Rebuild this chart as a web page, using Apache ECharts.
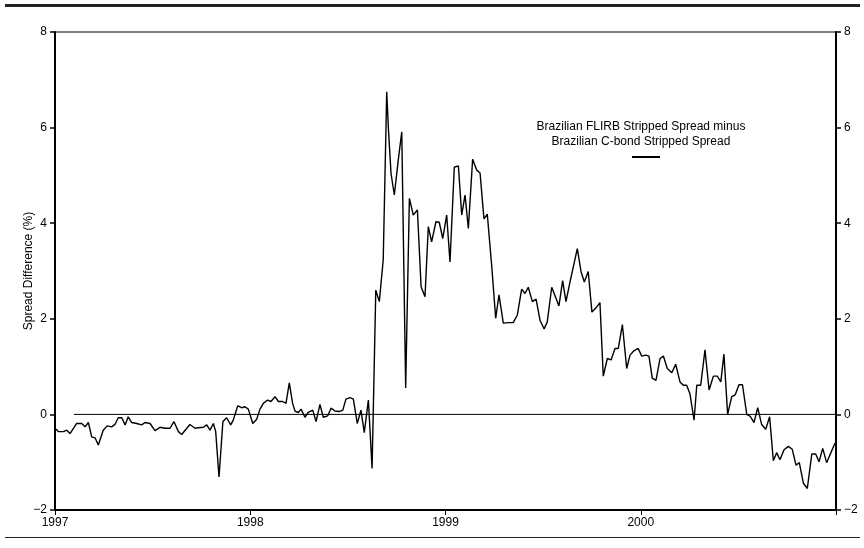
<!DOCTYPE html>
<html>
<head>
<meta charset="utf-8">
<script src="https://cdn.jsdelivr.net/npm/echarts@6/dist/echarts.min.js"></script>
<style>
  html, body { margin: 0; padding: 0; background: #fff; }
  #chart { width: 864px; height: 548px; }
</style>
</head>
<body>
<div id="chart"></div>
<script>
// weekly observations, x in fractional years
var dates = [
  1997.000, 1997.017, 1997.043, 1997.060, 1997.077, 1997.111, 1997.137, 1997.154, 1997.171, 1997.188,
  1997.205, 1997.222, 1997.247, 1997.268, 1997.290, 1997.307, 1997.324, 1997.342, 1997.359, 1997.375,
  1997.393, 1997.418, 1997.444, 1997.461, 1997.487, 1997.512, 1997.538, 1997.563, 1997.589, 1997.609,
  1997.632, 1997.649, 1997.675, 1997.691, 1997.717, 1997.734, 1997.760, 1997.777, 1997.794, 1997.811,
  1997.823, 1997.840, 1997.860, 1997.879, 1997.900, 1997.913, 1997.936, 1997.956, 1997.973, 1997.990,
  1998.013, 1998.033, 1998.050, 1998.067, 1998.089, 1998.106, 1998.127, 1998.144, 1998.166, 1998.183,
  1998.200, 1998.217, 1998.229, 1998.246, 1998.260, 1998.280, 1998.297, 1998.320, 1998.337, 1998.357,
  1998.374, 1998.397, 1998.414, 1998.434, 1998.456, 1998.474, 1998.490, 1998.511, 1998.528, 1998.548,
  1998.567, 1998.584, 1998.605, 1998.624, 1998.643, 1998.661, 1998.681, 1998.699, 1998.707, 1998.721,
  1998.738, 1998.758, 1998.776, 1998.796, 1998.815, 1998.835, 1998.856, 1998.875, 1998.895, 1998.912,
  1998.929, 1998.951, 1998.968, 1998.986, 1999.006, 1999.023, 1999.045, 1999.066, 1999.083, 1999.100,
  1999.117, 1999.139, 1999.160, 1999.177, 1999.197, 1999.214, 1999.237, 1999.257, 1999.274, 1999.296,
  1999.322, 1999.347, 1999.368, 1999.390, 1999.407, 1999.424, 1999.445, 1999.464, 1999.484, 1999.505,
  1999.521, 1999.544, 1999.561, 1999.581, 1999.600, 1999.617, 1999.638, 1999.655, 1999.675, 1999.694,
  1999.711, 1999.731, 1999.750, 1999.771, 1999.791, 1999.808, 1999.829, 1999.848, 1999.868, 1999.885,
  1999.906, 1999.928, 1999.945, 1999.965, 1999.987, 2000.005, 2000.025, 2000.042, 2000.059, 2000.078,
  2000.099, 2000.116, 2000.136, 2000.159, 2000.179, 2000.201, 2000.218, 2000.235, 2000.252, 2000.273,
  2000.287, 2000.307, 2000.329, 2000.350, 2000.372, 2000.392, 2000.410, 2000.426, 2000.445, 2000.466,
  2000.484, 2000.503, 2000.521, 2000.543, 2000.561, 2000.580, 2000.599, 2000.619, 2000.640, 2000.660,
  2000.679, 2000.696, 2000.713, 2000.734, 2000.756, 2000.776, 2000.795, 2000.812, 2000.833, 2000.853,
  2000.876, 2000.896, 2000.913, 2000.932, 2000.952, 2000.974, 2000.995
]
// FLIRB minus C-bond stripped spread, %
var spreadDiff = [
  -0.29, -0.36, -0.36, -0.33, -0.40, -0.19, -0.19, -0.26, -0.17, -0.47,
  -0.49, -0.64, -0.33, -0.24, -0.26, -0.21, -0.07, -0.07, -0.22, -0.05,
  -0.17, -0.19, -0.22, -0.17, -0.19, -0.34, -0.27, -0.29, -0.29, -0.15,
  -0.36, -0.42, -0.29, -0.21, -0.29, -0.28, -0.27, -0.22, -0.33, -0.19,
  -0.36, -1.31, -0.15, -0.07, -0.22, -0.12, 0.18, 0.14, 0.16, 0.11,
  -0.19, -0.10, 0.11, 0.23, 0.30, 0.27, 0.37, 0.27, 0.27, 0.23,
  0.66, 0.23, 0.07, 0.04, 0.11, -0.06, 0.04, 0.09, -0.15, 0.21,
  -0.06, -0.03, 0.13, 0.07, 0.06, 0.09, 0.32, 0.35, 0.32, -0.19,
  0.09, -0.38, 0.30, -1.13, 2.60, 2.36, 3.23, 6.75, 6.02, 5.04,
  4.59, 5.32, 5.91, 0.55, 4.52, 4.17, 4.28, 2.67, 2.46, 3.93,
  3.61, 4.03, 4.02, 3.68, 4.17, 3.19, 5.17, 5.20, 4.17, 4.59,
  3.89, 5.34, 5.11, 5.05, 4.09, 4.19, 3.09, 2.01, 2.50, 1.91,
  1.92, 1.92, 2.08, 2.62, 2.53, 2.66, 2.36, 2.41, 1.97, 1.79,
  1.93, 2.66, 2.48, 2.27, 2.80, 2.36, 2.78, 3.09, 3.47, 2.99,
  2.77, 2.99, 2.14, 2.23, 2.34, 0.80, 1.17, 1.14, 1.38, 1.38,
  1.88, 0.96, 1.24, 1.33, 1.38, 1.22, 1.24, 1.22, 0.76, 0.71,
  1.17, 1.22, 0.96, 0.87, 1.05, 0.68, 0.61, 0.61, 0.43, -0.12,
  0.61, 0.61, 1.35, 0.51, 0.80, 0.80, 0.68, 1.26, 0.00, 0.37,
  0.41, 0.62, 0.62, 0.00, -0.04, -0.17, 0.14, -0.21, -0.31, -0.05,
  -0.97, -0.80, -0.95, -0.74, -0.67, -0.73, -1.06, -1.01, -1.44, -1.55,
  -0.83, -0.83, -0.99, -0.71, -1.01, -0.80, -0.60
]
// zero reference line
var zeroStart = [1997.097, 0]
var zeroEnd = [2001, 0]
var yearTicks = ['1997', '1998', '1999', '2000']
var legendLines = ['Brazilian FLIRB Stripped Spread minus', 'Brazilian C-bond Stripped Spread']

var FONT = 'Liberation Sans, Arial, sans-serif'
var chart = echarts.init(document.getElementById('chart'))

var seriesData = dates.map(function (d, i) { return [d, spreadDiff[i]] })

var yAxisBase = {
  type: 'value',
  min: -2,
  max: 8,
  interval: 2,
  splitLine: { show: false },
  axisLine: { show: true, onZero: false, lineStyle: { color: '#000', width: 2 } },
  axisTick: { show: true, length: 5, lineStyle: { color: '#000', width: 1.5 } },
  axisLabel: {
    color: '#000', fontSize: 12, fontFamily: FONT, margin: 8,
    formatter: function (v) { return String(v).replace('-', '\u2212') }
  }
}

var option = {
  animation: false,
  backgroundColor: '#fff',
  grid: {
    left: 55, right: 28, top: 32, bottom: 38,
    show: true, borderColor: '#000', borderWidth: 1
  },
  xAxis: {
    type: 'value',
    min: 1997,
    max: 2001,
    interval: 1,
    splitLine: { show: false },
    axisLine: { onZero: false, lineStyle: { color: '#000', width: 2 } },
    axisTick: { length: 5, lineStyle: { color: '#000', width: 1 } },
    axisLabel: {
      color: '#000', fontSize: 12, fontFamily: FONT, margin: 7,
      formatter: function (v) {
        var s = String(Math.round(v))
        return yearTicks.indexOf(s) >= 0 ? s : ''
      }
    }
  },
  yAxis: [
    Object.assign({}, yAxisBase, {
      position: 'left',
      name: 'Spread Difference (%)',
      nameLocation: 'middle',
      nameGap: 20,
      nameMoveOverlap: false,
      nameTextStyle: { color: '#000', fontSize: 12, fontFamily: FONT }
    }),
    Object.assign({}, yAxisBase, { position: 'right' })
  ],
  series: [
    {
      type: 'line',
      data: [zeroStart, zeroEnd],
      symbol: 'none',
      silent: true,
      lineStyle: { color: '#000', width: 1 }
    },
    {
      type: 'line',
      data: seriesData,
      symbol: 'none',
      lineStyle: { color: '#000', width: 1.4 }
    }
  ],
  graphic: [
    { type: 'rect', shape: { x: 5, y: 4, width: 855, height: 3 }, style: { fill: '#222' } },
    { type: 'rect', shape: { x: 5, y: 537, width: 855, height: 1 }, style: { fill: '#222' } },
    {
      type: 'text', x: 641, y: 127,
      style: { text: legendLines[0], fill: '#000', font: '12px ' + FONT, textAlign: 'center', textVerticalAlign: 'middle' }
    },
    {
      type: 'text', x: 641, y: 142,
      style: { text: legendLines[1], fill: '#000', font: '12px ' + FONT, textAlign: 'center', textVerticalAlign: 'middle' }
    },
    { type: 'line', shape: { x1: 632, y1: 157, x2: 660, y2: 157 }, style: { stroke: '#000', lineWidth: 2 } }
  ]
}
chart.setOption(option)
</script>
</body>
</html>
